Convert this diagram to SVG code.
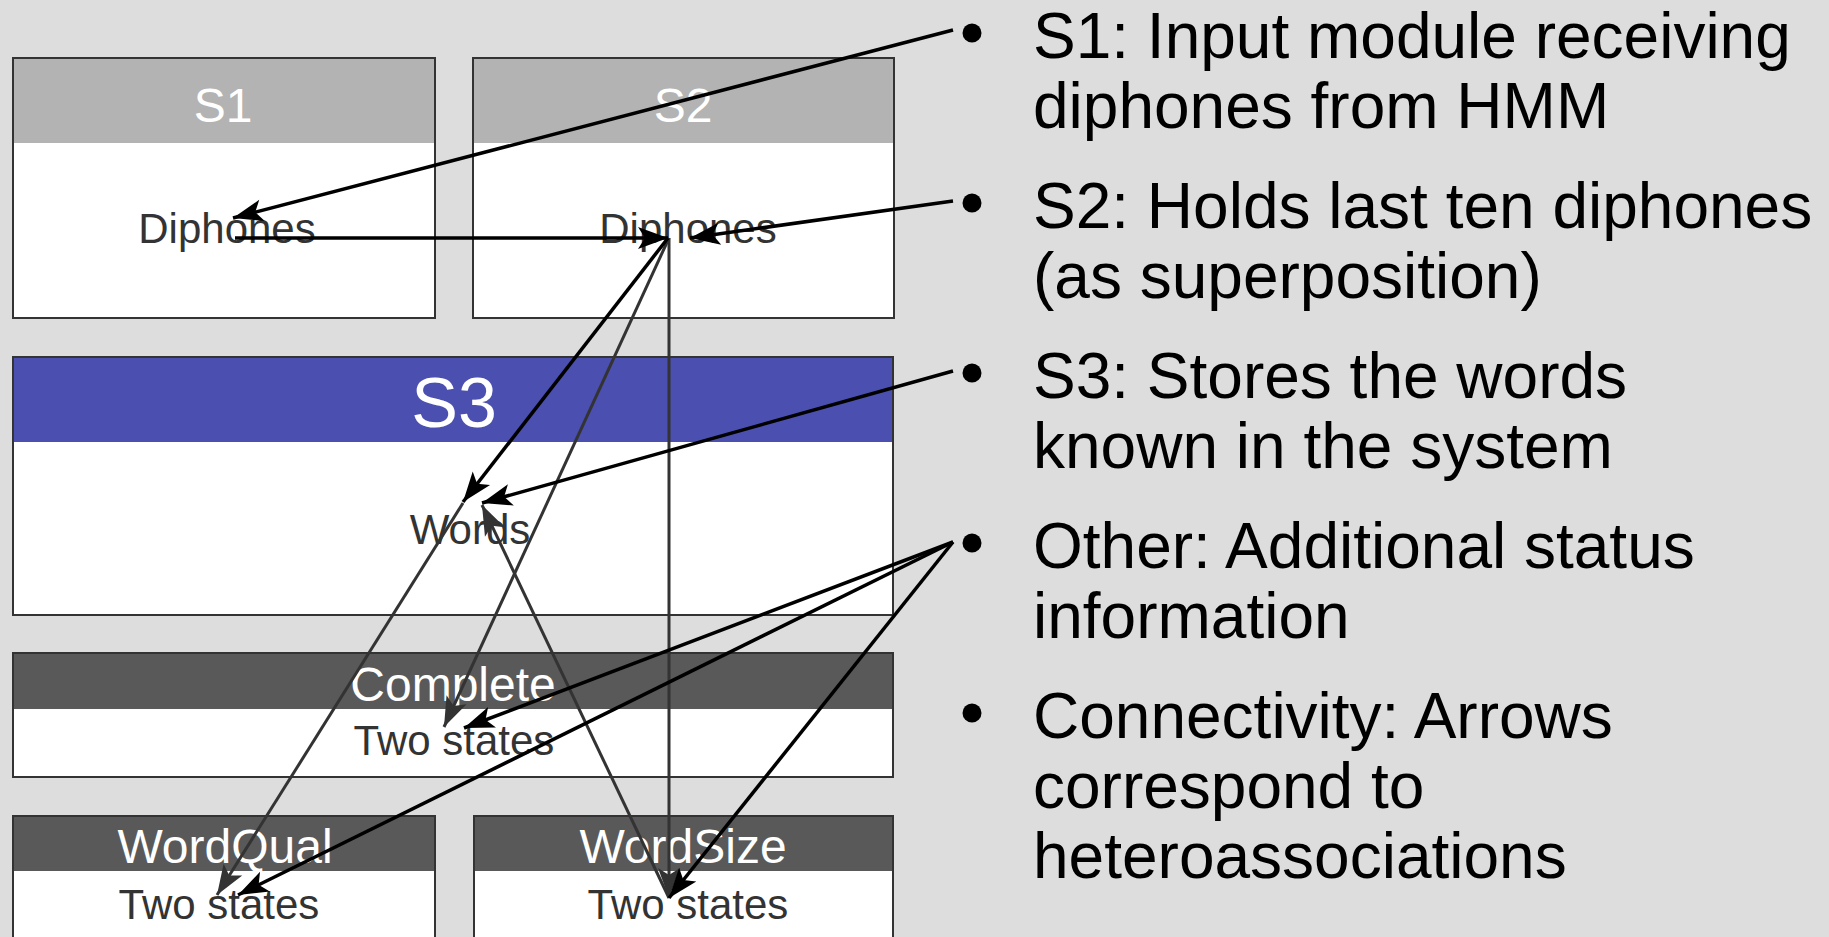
<svg xmlns="http://www.w3.org/2000/svg" width="1829" height="937" viewBox="0 0 1829 937">
<defs>
<style>
.box{fill:#ffffff;stroke:#333333;stroke-width:2}
.hl{fill:#b3b3b3}
.hb{fill:#4b4fb0}
.hd{fill:#595959}
.ht{font-family:"Liberation Sans",Arial,sans-serif;font-size:48px;fill:#ffffff;text-anchor:middle}
.bt{font-family:"Liberation Sans",Arial,sans-serif;font-size:42px;fill:#333333;text-anchor:middle}
.rt{font-family:"Liberation Sans",Arial,sans-serif;font-size:64px;fill:#000000}
.blk{stroke:#000000;stroke-width:3.5;fill:none;marker-end:url(#ab)}
.gry{stroke:#333333;stroke-width:3;fill:none;marker-end:url(#ag)}
</style>
<marker id="ab" viewBox="-32 -13 34 26" refX="0" refY="0" markerWidth="34" markerHeight="26" markerUnits="userSpaceOnUse" orient="auto">
<path d="M0,0 L-30,-11 L-23,0 L-30,11 Z" fill="#000000"/>
</marker>
<marker id="ag" viewBox="-32 -13 34 26" refX="0" refY="0" markerWidth="34" markerHeight="26" markerUnits="userSpaceOnUse" orient="auto">
<path d="M0,0 L-30,-11 L-23,0 L-30,11 Z" fill="#333333"/>
</marker>
</defs>
<rect x="0" y="0" width="1829" height="937" fill="#dddddd"/>

<g id="node-s1">
<rect class="box" x="13" y="58" width="422" height="260"/>
<rect class="hl" x="14" y="59" width="420" height="84"/>
<text class="ht" x="223" y="122">S1</text>
<text class="bt" x="227" y="243">Diphones</text>
</g>

<g id="node-s2">
<rect class="box" x="473" y="58" width="421" height="260"/>
<rect class="hl" x="474" y="59" width="419" height="84"/>
<text class="ht" x="683" y="122">S2</text>
<text class="bt" x="688" y="243">Diphones</text>
</g>

<g id="node-s3">
<rect class="box" x="13" y="357" width="880" height="258"/>
<rect class="hb" x="14" y="358" width="878" height="84"/>
<text class="ht" x="454" y="427" style="font-size:70px">S3</text>
<text class="bt" x="470" y="544">Words</text>
</g>

<g id="node-complete">
<rect class="box" x="13" y="653" width="880" height="124"/>
<rect class="hd" x="14" y="654" width="878" height="55"/>
<text class="ht" x="453" y="701">Complete</text>
<text class="bt" x="454" y="755">Two states</text>
</g>

<g id="node-wordqual">
<rect class="box" x="13" y="816" width="422" height="140"/>
<rect class="hd" x="14" y="817" width="420" height="54"/>
<text class="ht" x="225" y="863">WordQual</text>
<text class="bt" x="219" y="919">Two states</text>
</g>

<g id="node-wordsize">
<rect class="box" x="474" y="816" width="419" height="140"/>
<rect class="hd" x="475" y="817" width="417" height="54"/>
<text class="ht" x="683" y="863">WordSize</text>
<text class="bt" x="688" y="919">Two states</text>
</g>

<g id="notes">
<circle cx="972" cy="33" r="9.5" fill="#000"/>
<circle cx="972" cy="203" r="9.5" fill="#000"/>
<circle cx="972" cy="373" r="9.5" fill="#000"/>
<circle cx="972" cy="543" r="9.5" fill="#000"/>
<circle cx="972" cy="713" r="9.5" fill="#000"/>
<text class="rt" x="1033" y="58">S1: Input module receiving</text>
<text class="rt" x="1033" y="128">diphones from HMM</text>
<text class="rt" x="1033" y="228">S2: Holds last ten diphones</text>
<text class="rt" x="1033" y="298">(as superposition)</text>
<text class="rt" x="1033" y="398">S3: Stores the words</text>
<text class="rt" x="1033" y="468">known in the system</text>
<text class="rt" x="1033" y="568">Other: Additional status</text>
<text class="rt" x="1033" y="638">information</text>
<text class="rt" x="1033" y="738">Connectivity: Arrows</text>
<text class="rt" x="1033" y="808">correspond to</text>
<text class="rt" x="1033" y="878">heteroassociations</text>
</g>

<g id="connectors">
<line class="gry" x1="669" y1="238" x2="669" y2="898"/>
<line class="gry" x1="669" y1="238" x2="444" y2="727"/>
<line class="gry" x1="463" y1="503" x2="217" y2="895"/>
<line class="gry" x1="669" y1="898" x2="482" y2="505"/>
<line class="blk" x1="953" y1="30" x2="233" y2="218"/>
<line class="blk" x1="235" y1="238" x2="668" y2="238"/>
<line class="blk" x1="953" y1="201" x2="690" y2="238"/>
<line class="blk" x1="668" y1="238" x2="463" y2="502"/>
<line class="blk" x1="953" y1="371" x2="482" y2="503"/>
<line class="blk" x1="953" y1="542" x2="464" y2="728"/>
<line class="blk" x1="953" y1="542" x2="238" y2="895"/>
<line class="blk" x1="953" y1="542" x2="669" y2="898"/>
</g>
</svg>
